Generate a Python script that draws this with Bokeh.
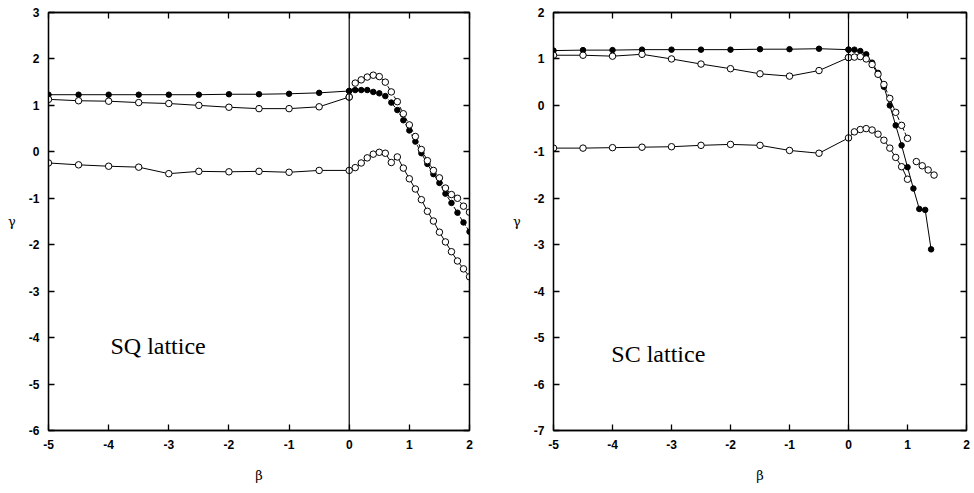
from bokeh.plotting import figure
from bokeh.layouts import row
from bokeh.models import LinearAxis, FixedTicker, Span, Label, Range1d, CustomJSTickFormatter
from bokeh.embed import file_html
from bokeh.resources import INLINE

# ---------------- data ----------------
beta_neg = [-5.0, -4.5, -4.0, -3.5, -3.0, -2.5, -2.0, -1.5, -1.0, -0.5, 0.0]

# SQ lattice
sq_beta_pos = [0.1, 0.2, 0.3, 0.4, 0.5, 0.6, 0.7, 0.8, 0.9, 1.0,
               1.1, 1.2, 1.3, 1.4, 1.5, 1.6, 1.7, 1.8, 1.9, 2.0]
sq_filled_neg = [1.23, 1.23, 1.23, 1.23, 1.23, 1.23, 1.24, 1.24, 1.25, 1.27, 1.31]
sq_filled_pos = [1.33, 1.33, 1.33, 1.29, 1.26, 1.20, 1.06, 0.90, 0.68, 0.46,
                 0.22, -0.03, -0.26, -0.48, -0.67, -0.90, -1.10, -1.31, -1.52, -1.72]
sq_open_neg = [1.13, 1.10, 1.09, 1.06, 1.04, 1.00, 0.96, 0.93, 0.93, 0.97, 1.18]
sq_open_pos = [1.48, 1.55, 1.61, 1.65, 1.62, 1.50, 1.29, 1.08, 0.82, 0.58,
               0.33, 0.05, -0.19, -0.40, -0.56, -0.78, -0.92, -1.00, -1.17, -1.30]
sq_low_neg = [-0.24, -0.28, -0.31, -0.33, -0.47, -0.42, -0.43, -0.42, -0.44, -0.40, -0.40]
sq_low_pos = [-0.34, -0.24, -0.13, -0.05, -0.01, -0.03, -0.23, -0.11, -0.35, -0.58,
              -0.80, -1.03, -1.28, -1.49, -1.73, -1.94, -2.15, -2.35, -2.52, -2.69]

# SC lattice
sc_beta_filled_pos = [0.1, 0.2, 0.3, 0.4, 0.5, 0.6, 0.7, 0.8, 0.9, 1.0, 1.1, 1.2, 1.3, 1.4]
sc_filled_neg = [1.18, 1.19, 1.19, 1.20, 1.20, 1.20, 1.20, 1.21, 1.21, 1.22, 1.20]
sc_filled_pos = [1.20, 1.17, 1.10, 0.92, 0.70, 0.40, 0.00, -0.43, -0.86, -1.33,
                 -1.79, -2.23, -2.25, -3.10]
sc_beta_pos = [0.1, 0.2, 0.3, 0.4, 0.5, 0.6, 0.7, 0.8, 0.9, 1.0]
sc_open_neg = [1.08, 1.08, 1.06, 1.10, 1.00, 0.89, 0.79, 0.68, 0.63, 0.75, 1.03]
sc_open_pos = [1.04, 1.05, 1.00, 0.88, 0.67, 0.45, 0.15, -0.15, -0.43, -0.71]
sc_beta_tail = [1.15, 1.25, 1.35, 1.45]
sc_open_tail = [-1.21, -1.30, -1.39, -1.50]
sc_low_neg = [-0.92, -0.92, -0.91, -0.90, -0.89, -0.86, -0.84, -0.86, -0.97, -1.03, -0.70]
sc_low_pos = [-0.57, -0.52, -0.50, -0.53, -0.62, -0.75, -0.92, -1.12, -1.32, -1.59]

x_ticks = [-5, -4, -3, -2, -1, 0, 1, 2]
sq_y_ticks = [3, 2, 1, 0, -1, -2, -3, -4, -5, -6]
sc_y_ticks = [2, 1, 0, -1, -2, -3, -4, -5, -6, -7]

TICK_FONT = "Liberation Sans"
SERIF = "Liberation Serif"
GREEK = "DejaVu Serif"


def style_axis(ax, ticks, show_labels=True):
    ax.ticker = FixedTicker(ticks=ticks)
    ax.major_tick_in = 6
    ax.major_tick_out = 0
    ax.minor_tick_line_color = None
    ax.axis_line_color = "black"
    ax.axis_line_width = 1.3
    ax.major_tick_line_color = "black"
    ax.major_tick_line_width = 1.3
    ax.major_label_text_font = TICK_FONT
    ax.major_label_text_font_style = "bold"
    ax.major_label_text_color = "black"
    ax.major_label_text_font_size = "12px"
    if show_labels:
        ax.formatter = CustomJSTickFormatter(code="return tick.toFixed(0)")
        ax.major_label_standoff = 9
    else:
        ax.formatter = CustomJSTickFormatter(code="return ''")
        ax.major_label_standoff = 0


def make_panel(y0, y1, yticks, width, mbl, mbr, title_text, tx, ty):
    p = figure(width=width, height=485, x_range=Range1d(-5, 2), y_range=Range1d(y0, y1),
               output_backend="svg", toolbar_location=None,
               min_border_left=mbl, min_border_right=mbr,
               min_border_top=12, min_border_bottom=52)
    p.grid.visible = False
    p.outline_line_color = "black"
    p.outline_line_width = 1.3
    p.background_fill_color = "white"
    p.border_fill_color = "white"
    style_axis(p.xaxis[0], x_ticks)
    style_axis(p.yaxis[0], yticks)
    p.xaxis.axis_label = "β"
    p.yaxis.axis_label = "γ"
    for ax in (p.xaxis[0], p.yaxis[0]):
        ax.axis_label_text_font = GREEK
        ax.axis_label_text_font_style = "normal"
        ax.axis_label_text_font_size = "13px"
        ax.axis_label_text_color = "black"
    p.xaxis.axis_label_standoff = 16
    p.yaxis.axis_label_standoff = 10
    try:
        p.yaxis[0].axis_label_orientation = "horizontal"
    except Exception:
        pass
    top = LinearAxis()
    style_axis(top, x_ticks, show_labels=False)
    p.add_layout(top, "above")
    right = LinearAxis()
    style_axis(right, yticks, show_labels=False)
    p.add_layout(right, "right")
    p.add_layout(Span(location=0, dimension="height", line_color="black", line_width=1.2))
    p.add_layout(Label(x=tx, y=ty, text=title_text, text_font=SERIF,
                       text_font_size="24px", text_color="black",
                       text_baseline="middle"))
    return p


def series(p, bx, by, filled, dash="solid"):
    p.line(bx, by, line_color="black", line_width=1, line_dash=dash)
    if filled:
        p.scatter(bx, by, size=5.5, fill_color="black", line_color="black")
    else:
        p.scatter(bx, by, size=6.5, fill_color="white", line_color="black", line_width=1)


# ---------- SQ panel ----------
p1 = make_panel(-6, 3, sq_y_ticks, 510, 48, 41, "SQ lattice", -3.97, -4.19)
series(p1, [0.0] + sq_beta_pos, [sq_filled_neg[-1]] + sq_filled_pos, True, "4 2")
series(p1, beta_neg, sq_filled_neg, True)
series(p1, [0.0] + sq_beta_pos, [sq_open_neg[-1]] + sq_open_pos, False, "4 2")
series(p1, beta_neg, sq_open_neg, False)
series(p1, beta_neg + sq_beta_pos, sq_low_neg + sq_low_pos, False)

# ---------- SC panel ----------
p2 = make_panel(-7, 2, sc_y_ticks, 460, 42, 4, "SC lattice", -4.02, -5.35)
series(p2, beta_neg, sc_filled_neg, True)
series(p2, [0.0] + sc_beta_filled_pos, [sc_filled_neg[-1]] + sc_filled_pos, True)
series(p2, beta_neg, sc_open_neg, False)
series(p2, [0.0] + sc_beta_pos, [sc_open_neg[-1]] + sc_open_pos, False, "4 2")
series(p2, sc_beta_tail, sc_open_tail, False)
series(p2, beta_neg + sc_beta_pos, sc_low_neg + sc_low_pos, False)

layout = row(p1, p2, spacing=0)
open("out.html", "w").write(file_html(layout, INLINE))
